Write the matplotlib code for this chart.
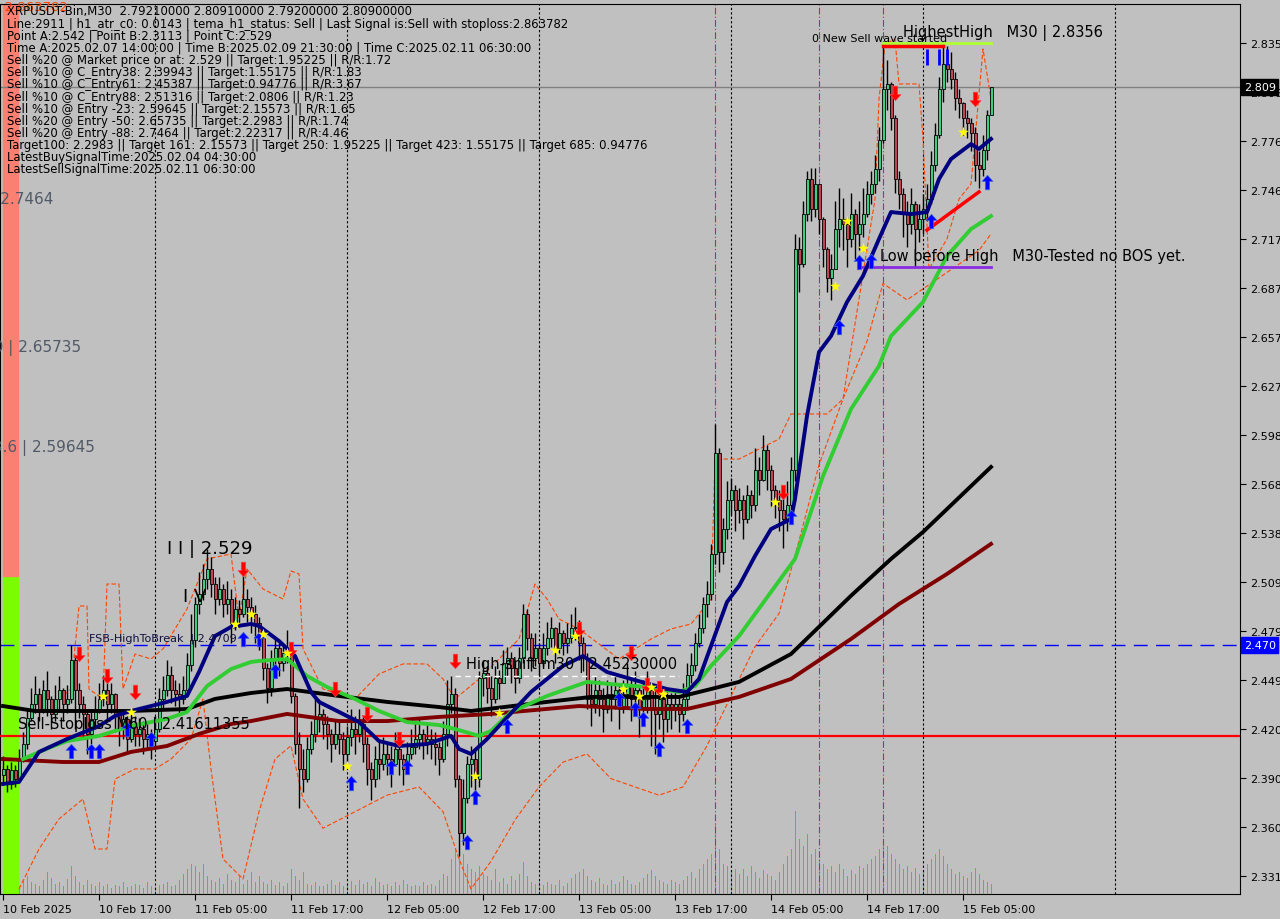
import matplotlib.pyplot as plt
import numpy as np
from matplotlib.path import Path
from matplotlib.patches import Rectangle

# XRPUSDT-Bin M30 candles, bar 0 = 10 Feb 2025 05:00
first_open = 2.392
closes = [
    2.396, 2.387, 2.395, 2.390, 2.402, 2.411, 2.427, 2.435,
    2.441, 2.432, 2.444, 2.438, 2.429, 2.438, 2.444, 2.435,
    2.438, 2.462, 2.444, 2.435, 2.429, 2.417, 2.426, 2.432,
    2.438, 2.444, 2.435, 2.441, 2.429, 2.420, 2.426, 2.414,
    2.423, 2.417, 2.420, 2.414, 2.417, 2.413, 2.420, 2.438,
    2.444, 2.453, 2.444, 2.441, 2.438, 2.444, 2.459, 2.474,
    2.496, 2.502, 2.511, 2.517, 2.508, 2.499, 2.505, 2.496,
    2.499, 2.484, 2.493, 2.490, 2.499, 2.494, 2.490, 2.484,
    2.475, 2.457, 2.445, 2.463, 2.469, 2.460, 2.466, 2.469,
    2.440, 2.411, 2.396, 2.390, 2.408, 2.417, 2.426, 2.429,
    2.423, 2.417, 2.411, 2.417, 2.414, 2.405, 2.415, 2.420,
    2.417, 2.423, 2.411, 2.396, 2.390, 2.402, 2.399, 2.405,
    2.402, 2.399, 2.408, 2.402, 2.396, 2.405, 2.409, 2.414,
    2.417, 2.411, 2.414, 2.411, 2.409, 2.402, 2.417, 2.435,
    2.441, 2.390, 2.357, 2.378, 2.399, 2.402, 2.390, 2.451,
    2.454, 2.445, 2.438, 2.451, 2.448, 2.460, 2.463, 2.457,
    2.451, 2.463, 2.490, 2.475, 2.463, 2.469, 2.460, 2.469,
    2.475, 2.481, 2.469, 2.478, 2.472, 2.475, 2.481, 2.482,
    2.472, 2.463, 2.438, 2.435, 2.444, 2.438, 2.432, 2.441,
    2.438, 2.444, 2.432, 2.441, 2.447, 2.438, 2.444, 2.432,
    2.438, 2.444, 2.432, 2.429, 2.438, 2.426, 2.435, 2.432,
    2.435, 2.429, 2.438, 2.453, 2.459, 2.472, 2.481, 2.496,
    2.502, 2.526, 2.587, 2.527, 2.541, 2.559, 2.565, 2.553,
    2.559, 2.547, 2.562, 2.556, 2.577, 2.571, 2.589, 2.577,
    2.565, 2.559, 2.553, 2.547, 2.556, 2.577, 2.711, 2.702,
    2.732, 2.753, 2.735, 2.750, 2.729, 2.711, 2.693, 2.699,
    2.723, 2.729, 2.726, 2.717, 2.732, 2.720, 2.726, 2.732,
    2.744, 2.750, 2.759, 2.777, 2.808, 2.811, 2.790, 2.753,
    2.744, 2.732, 2.726, 2.738, 2.723, 2.729, 2.735, 2.741,
    2.762, 2.780, 2.808, 2.823, 2.820, 2.814, 2.802, 2.799,
    2.790, 2.787, 2.781, 2.762, 2.759, 2.771, 2.7921, 2.809,
]
highs = [
    2.404, 2.398, 2.400, 2.398, 2.408, 2.418, 2.432, 2.445,
    2.452, 2.445, 2.450, 2.455, 2.440, 2.447, 2.452, 2.445,
    2.447, 2.471, 2.465, 2.448, 2.440, 2.432, 2.432, 2.440,
    2.448, 2.452, 2.450, 2.448, 2.442, 2.432, 2.432, 2.428,
    2.430, 2.428, 2.427, 2.425, 2.424, 2.420, 2.428, 2.445,
    2.452, 2.462, 2.458, 2.450, 2.448, 2.452, 2.466, 2.490,
    2.500, 2.515, 2.520, 2.529, 2.524, 2.512, 2.512, 2.508,
    2.510, 2.505, 2.500, 2.498, 2.520, 2.505, 2.500, 2.495,
    2.488, 2.478, 2.460, 2.468, 2.475, 2.472, 2.472, 2.480,
    2.472, 2.442, 2.418, 2.408, 2.415, 2.425, 2.440, 2.438,
    2.432, 2.428, 2.420, 2.425, 2.426, 2.418, 2.422, 2.432,
    2.428, 2.432, 2.428, 2.415, 2.400, 2.410, 2.412, 2.415,
    2.412, 2.410, 2.418, 2.412, 2.405, 2.412, 2.420, 2.424,
    2.426, 2.420, 2.424, 2.420, 2.418, 2.412, 2.425, 2.450,
    2.452, 2.445, 2.392, 2.390, 2.404, 2.410, 2.408, 2.455,
    2.462, 2.458, 2.452, 2.458, 2.456, 2.468, 2.470, 2.467,
    2.462, 2.470, 2.496, 2.493, 2.478, 2.478, 2.472, 2.478,
    2.485, 2.488, 2.482, 2.485, 2.480, 2.484, 2.490, 2.494,
    2.486, 2.476, 2.466, 2.448, 2.452, 2.450, 2.445, 2.450,
    2.448, 2.452, 2.448, 2.450, 2.460, 2.450, 2.455, 2.446,
    2.450, 2.455, 2.448, 2.445, 2.448, 2.440, 2.445, 2.442,
    2.444, 2.440, 2.448, 2.460, 2.466, 2.478, 2.490, 2.500,
    2.510, 2.532, 2.605, 2.590, 2.548, 2.570, 2.572, 2.568,
    2.566, 2.562, 2.568, 2.565, 2.590, 2.585, 2.598, 2.592,
    2.580, 2.568, 2.565, 2.562, 2.570, 2.585, 2.720, 2.718,
    2.740, 2.758, 2.760, 2.760, 2.742, 2.730, 2.712, 2.708,
    2.740, 2.748, 2.742, 2.730, 2.745, 2.735, 2.740, 2.748,
    2.752, 2.758, 2.768, 2.785, 2.836, 2.825, 2.812, 2.792,
    2.758, 2.748, 2.740, 2.748, 2.740, 2.738, 2.744, 2.750,
    2.770, 2.787, 2.815, 2.836, 2.834, 2.830, 2.818, 2.808,
    2.800, 2.795, 2.790, 2.785, 2.770, 2.780, 2.795, 2.8091,
]
lows = [
    2.386, 2.382, 2.384, 2.385, 2.388, 2.400, 2.408, 2.425,
    2.430, 2.425, 2.430, 2.428, 2.420, 2.425, 2.432, 2.425,
    2.430, 2.436, 2.420, 2.427, 2.415, 2.405, 2.411, 2.420,
    2.430, 2.434, 2.426, 2.430, 2.418, 2.410, 2.414, 2.405,
    2.412, 2.410, 2.410, 2.405, 2.408, 2.402, 2.408, 2.418,
    2.432, 2.440, 2.436, 2.434, 2.430, 2.435, 2.440, 2.455,
    2.470, 2.490, 2.498, 2.505, 2.500, 2.490, 2.495, 2.488,
    2.490, 2.472, 2.480, 2.482, 2.488, 2.485, 2.478, 2.472,
    2.468, 2.450, 2.436, 2.440, 2.458, 2.452, 2.455, 2.460,
    2.436, 2.405, 2.372, 2.382, 2.388, 2.405, 2.412, 2.418,
    2.414, 2.408, 2.400, 2.408, 2.405, 2.395, 2.400, 2.410,
    2.405, 2.412, 2.400, 2.386, 2.377, 2.385, 2.390, 2.395,
    2.392, 2.385, 2.398, 2.392, 2.386, 2.395, 2.402, 2.405,
    2.408, 2.402, 2.405, 2.402, 2.398, 2.392, 2.400, 2.410,
    2.430, 2.385, 2.343, 2.350, 2.375, 2.385, 2.380, 2.385,
    2.440, 2.436, 2.428, 2.436, 2.438, 2.448, 2.452, 2.448,
    2.442, 2.448, 2.460, 2.468, 2.455, 2.458, 2.452, 2.458,
    2.465, 2.470, 2.460, 2.466, 2.465, 2.466, 2.472, 2.474,
    2.462, 2.455, 2.432, 2.422, 2.430, 2.428, 2.418, 2.430,
    2.425, 2.432, 2.420, 2.430, 2.432, 2.425, 2.430, 2.415,
    2.428, 2.430, 2.410, 2.405, 2.420, 2.412, 2.418, 2.420,
    2.425, 2.418, 2.425, 2.432, 2.448, 2.455, 2.470, 2.478,
    2.488, 2.498, 2.520, 2.515, 2.520, 2.535, 2.550, 2.540,
    2.545, 2.535, 2.545, 2.548, 2.552, 2.562, 2.570, 2.565,
    2.555, 2.548, 2.540, 2.530, 2.540, 2.548, 2.570, 2.685,
    2.700, 2.728, 2.728, 2.730, 2.720, 2.700, 2.685, 2.680,
    2.705, 2.712, 2.710, 2.700, 2.712, 2.705, 2.710, 2.718,
    2.730, 2.738, 2.745, 2.752, 2.775, 2.795, 2.783, 2.745,
    2.735, 2.718, 2.712, 2.720, 2.700, 2.715, 2.720, 2.728,
    2.738, 2.758, 2.778, 2.800, 2.812, 2.808, 2.795, 2.790,
    2.780, 2.778, 2.770, 2.752, 2.748, 2.755, 2.765, 2.7920,
]
volume = [
    12, 14, 10, 9, 8, 14, 18, 12, 10, 8, 14, 22, 16, 10, 12, 8,
    15, 28, 18, 12, 9, 14, 10, 8, 12, 8, 10, 6, 9, 8, 12, 7,
    8, 10, 9, 6, 12, 8, 7, 9, 10, 12, 8, 9, 14, 20, 25, 30,
    28, 22, 30, 18, 14, 12, 16, 10, 20, 14, 12, 18, 10, 14, 22, 12,
    18, 12, 10, 14, 9, 12, 8, 11, 25, 18, 14, 22, 10, 9, 12, 8,
    8, 10, 14, 9, 12, 8, 10, 13, 9, 14, 10, 12, 8, 16, 12, 9,
    10, 8, 12, 9, 14, 10, 8, 9, 8, 12, 9, 10, 8, 14, 20, 18,
    35, 45, 113, 40, 30, 25, 22, 28, 20, 18, 14, 25, 12, 16, 10, 18,
    14, 20, 32, 18, 12, 10, 14, 9, 12, 10, 9, 14, 8, 11, 16, 20,
    22, 25, 18, 14, 12, 16, 10, 9, 14, 10, 12, 18, 14, 10, 9, 12,
    16, 20, 24, 18, 14, 12, 10, 14, 12, 10, 14, 18, 22, 16, 25, 30,
    35, 40, 70, 45, 30, 28, 22, 25, 20, 25, 18, 28, 22, 16, 24, 20,
    18, 14, 22, 30, 38, 45, 83, 55, 48, 60, 40, 45, 35, 30, 25, 28,
    22, 30, 25, 18, 24, 20, 28, 26, 30, 35, 38, 45, 55, 48, 40, 35,
    30, 25, 28, 22, 26, 20, 24, 30, 35, 40, 45, 38, 30, 25, 20, 22,
    18, 16, 22, 26, 20, 14, 12, 10,
]

# moving averages (bar index, price)
navy_i = [0, 4, 9, 16, 24, 28, 32, 37, 41, 46, 49, 53, 57, 62, 64, 69, 73, 77, 79, 84,
          89, 94, 99, 106, 112, 114, 117, 121, 124, 132, 140, 145, 151, 157, 166, 171,
          174, 177, 181, 184, 188, 192, 197, 198, 201, 204, 207, 211, 215, 219, 222,
          227, 231, 234, 237, 242, 244, 247]
navy_v = [2.3868, 2.3880, 2.4062, 2.4140, 2.4219, 2.4280, 2.4310, 2.4340, 2.4365, 2.4401,
          2.4546, 2.4764, 2.4819, 2.4837, 2.4825, 2.4734, 2.4643, 2.4425, 2.4365, 2.4304,
          2.4243, 2.4128, 2.4098, 2.4110, 2.4159, 2.4080, 2.4050, 2.4140, 2.4219, 2.4425,
          2.4583, 2.4643, 2.4546, 2.4504, 2.4443, 2.4425, 2.4504, 2.4704, 2.4970, 2.5067,
          2.5249, 2.5412, 2.5473, 2.5594, 2.6097, 2.6484, 2.6581, 2.6787, 2.6945, 2.7169,
          2.7332, 2.7320, 2.7332, 2.7532, 2.7653, 2.7744, 2.7714, 2.7775]
green_i = [5, 12, 16, 24, 32, 41, 46, 51, 57, 62, 64, 71, 76, 81, 88, 94, 101, 109, 113,
           119, 122, 127, 136, 146, 152, 161, 169, 173, 177, 184, 198, 205, 212, 219,
           222, 230, 236, 242, 247]
green_v = [2.4019, 2.4092, 2.4128, 2.4159, 2.4219, 2.4262, 2.4304, 2.4461, 2.4564, 2.4607,
           2.4613, 2.4625, 2.4522, 2.4455, 2.4383, 2.4310, 2.4243, 2.4225, 2.4201, 2.4159,
           2.4189, 2.4304, 2.4401, 2.4486, 2.4473, 2.4455, 2.4425, 2.4461, 2.4583, 2.4764,
           2.5231, 2.5733, 2.6139, 2.6400, 2.6581, 2.6787, 2.7066, 2.7229, 2.7308]
black_i = [0, 8, 16, 32, 46, 53, 62, 71, 84, 96, 109, 117, 136, 147, 169, 177, 184, 197,
           212, 222, 230, 247]
black_v = [2.4340, 2.4310, 2.4310, 2.4310, 2.4322, 2.4383, 2.4419, 2.4443, 2.4401, 2.4365,
           2.4334, 2.4310, 2.4365, 2.4395, 2.4395, 2.4443, 2.4486, 2.4655, 2.5008, 2.5231,
           2.5394, 2.5788]
maroon_i = [0, 15, 24, 32, 41, 49, 57, 62, 71, 84, 96, 109, 122, 144, 161, 171, 184, 197,
            212, 224, 236, 247]
maroon_v = [2.4019, 2.4001, 2.4001, 2.4062, 2.4098, 2.4171, 2.4231, 2.4249, 2.4292, 2.4249,
            2.4249, 2.4274, 2.4292, 2.4340, 2.4322, 2.4322, 2.4395, 2.4504, 2.4746, 2.4958,
            2.5140, 2.5322]

# orange dashed channel
band_up_i = [14, 17, 19, 21, 21.5, 25, 26, 29, 30, 33, 37, 40, 46, 51, 57, 59, 61, 65, 70,
             72, 74, 75, 80, 88, 94, 100, 106, 110, 113, 116, 119, 129, 133, 136, 139, 144,
             149, 154, 162, 167, 172, 177, 178, 184, 194, 197, 206, 210, 214, 218, 219,
             220.5, 223, 224, 229, 230, 231.5, 236, 239, 242, 245, 247]
band_up_v = [2.4383, 2.4443, 2.4946, 2.4946, 2.4443, 2.4383, 2.5079, 2.5079, 2.4443, 2.4655,
             2.4625, 2.4686, 2.4928, 2.5231, 2.5261, 2.4867, 2.5170, 2.5049, 2.4988, 2.5158,
             2.5140, 2.4686, 2.4443, 2.4383, 2.4534, 2.4595, 2.4595, 2.4504, 2.4383, 2.4443,
             2.4504, 2.4746, 2.5079, 2.4988, 2.4867, 2.4807, 2.4716, 2.4625, 2.4746, 2.4807,
             2.4837, 2.4988, 2.5836, 2.5836, 2.5957, 2.6109, 2.6109, 2.6200, 2.6805, 2.7411,
             2.8017, 2.8350, 2.8380, 2.8108, 2.8108, 2.7775, 2.6987, 2.7169, 2.7411, 2.7502,
             2.8320, 2.8017]
band_dn_i = [4, 9, 14, 20, 23, 26, 28, 33, 38, 42, 47, 50, 52, 55, 60, 64, 68, 72, 75, 80,
             88, 96, 104, 110, 114, 117, 122, 128, 134, 140, 146, 152, 158, 164, 170, 176,
             182, 188, 194, 198, 204, 210, 216, 220, 226, 232, 238, 244, 247]
band_dn_v = [2.3232, 2.3474, 2.3656, 2.3777, 2.3474, 2.3474, 2.3898, 2.3959, 2.3959, 2.4019,
             2.4140, 2.4383, 2.3959, 2.3414, 2.3292, 2.3700, 2.4019, 2.4100, 2.3777, 2.3600,
             2.3700, 2.3800, 2.3850, 2.3700, 2.3414, 2.3232, 2.3400, 2.3650, 2.3850, 2.4000,
             2.4050, 2.3900, 2.3850, 2.3800, 2.3850, 2.4100, 2.4400, 2.4700, 2.4900, 2.5250,
             2.5800, 2.6200, 2.6550, 2.6900, 2.6800, 2.6900, 2.7000, 2.7100, 2.7200]

# signal markers (bar index, price)
buy_i = [17, 22, 24, 31, 37, 60, 64, 68, 87, 97, 101, 116, 118, 126, 154, 158, 160, 164,
         171, 197, 209, 214, 217, 232, 246]
buy_v = [2.4068, 2.4068, 2.4068, 2.4201, 2.4140, 2.4746, 2.4746, 2.4552, 2.3874, 2.3971,
         2.3971, 2.3517, 2.3789, 2.4219, 2.4383, 2.4322, 2.4262, 2.4080, 2.4219, 2.5485,
         2.6636, 2.7030, 2.7036, 2.7278, 2.7514]
sell_i = [19, 26, 33, 60, 72, 83, 91, 99, 113, 144, 157, 161, 164, 195, 223, 243]
sell_v = [2.4655, 2.4522, 2.4425, 2.5170, 2.4686, 2.4443, 2.4292, 2.4140, 2.4613, 2.4807,
          2.4661, 2.4467, 2.4449, 2.5636, 2.8053, 2.8017]
star_i = [25, 32, 58, 62, 65, 71, 86, 118, 124, 138, 143, 155, 159, 162, 165, 193, 208,
          211, 215, 240]
star_v = [2.4401, 2.4304, 2.4837, 2.4898, 2.4777, 2.4661, 2.3977, 2.3917, 2.4298, 2.4679,
          2.4764, 2.4443, 2.4401, 2.4455, 2.4413, 2.5576, 2.6884, 2.7278, 2.7114, 2.7817]

price_ticks = [2.3311, 2.3608, 2.3905, 2.4202, 2.4498, 2.4795, 2.5092, 2.5389, 2.5686,
               2.5982, 2.6279, 2.6576, 2.6873, 2.7170, 2.7466, 2.7763, 2.8060, 2.8356]
date_pos = [0, 24, 48, 72, 96, 120, 144, 168, 192, 216, 240]
date_txt = ['10 Feb 2025', '10 Feb 17:00', '11 Feb 05:00', '11 Feb 17:00', '12 Feb 05:00',
            '12 Feb 17:00', '13 Feb 05:00', '13 Feb 17:00', '14 Feb 05:00', '14 Feb 17:00',
            '15 Feb 05:00']
midnight_bars = [38, 86, 134, 182, 230, 278]
session_bars = [178, 204, 220]

info_lines = [
    'XRPUSDT-Bin,M30  2.79210000 2.80910000 2.79200000 2.80900000',
    'Line:2911 | h1_atr_c0: 0.0143 | tema_h1_status: Sell | Last Signal is:Sell with stoploss:2.863782',
    'Point A:2.542 | Point B:2.3113 | Point C:2.529',
    'Time A:2025.02.07 14:00:00 | Time B:2025.02.09 21:30:00 | Time C:2025.02.11 06:30:00',
    'Sell %20 @ Market price or at: 2.529 || Target:1.95225 || R/R:1.72',
    'Sell %10 @ C_Entry38: 2.39943 || Target:1.55175 || R/R:1.83',
    'Sell %10 @ C_Entry61: 2.45387 || Target:0.94776 || R/R:3.67',
    'Sell %10 @ C_Entry88: 2.51316 || Target:2.0806 || R/R:1.23',
    'Sell %10 @ Entry -23: 2.59645 || Target:2.15573 || R/R:1.65',
    'Sell %20 @ Entry -50: 2.65735 || Target:2.2983 || R/R:1.74',
    'Sell %20 @ Entry -88: 2.7464 || Target:2.22317 || R/R:4.46',
    'Target100: 2.2983 || Target 161: 2.15573 || Target 250: 1.95225 || Target 423: 1.55175 || Target 685: 0.94776',
    'LatestBuySignalTime:2025.02.04 04:30:00',
    'LatestSellSignalTime:2025.02.11 06:30:00',
]

bg = '#c0c0c0'
fig = plt.figure(figsize=(12.8, 9.2), dpi=100, facecolor=bg)
ax = fig.add_axes([0, 25 / 920, 1240 / 1280, 890 / 920])
ax2 = ax.twinx()
ax.set_zorder(2)
ax2.set_zorder(1)
ax.patch.set_alpha(0)

n = len(closes)
idx = np.arange(n)
c = np.array(closes)
o = np.concatenate([[first_open], c[:-1]])
hi = np.maximum(np.array(highs), np.maximum(o, c))
lo = np.minimum(np.array(lows), np.minimum(o, c))

# volume
ax2.vlines(idx, 0, volume, color='#22dd22', lw=0.72, antialiased=False)
ax2.set_ylim(0, 890)
ax2.axis('off')

# left colour bar
ax.add_patch(Rectangle((3 / 1240, 0), 15 / 1240, 318 / 890, transform=ax.transAxes,
                       color='#7cfc00', zorder=0))
ax.add_patch(Rectangle((3 / 1240, 318 / 890), 15 / 1240, 1 - 318 / 890,
                       transform=ax.transAxes, color='#fa8072', zorder=0))

for b in midnight_bars:
    ax.axvline(b, color='black', lw=0.8, ls=(0, (2, 2)), zorder=1)
for b in session_bars:
    ax.axvline(b, color='#a0307a', lw=0.8, ls=(0, (6, 2, 1, 2)), zorder=1)

ax.axhline(2.809, color='#808080', lw=1, zorder=1)
ax.axhline(2.4709, color='#0000ff', lw=1, ls=(0, (10, 6)), zorder=1)
ax.axhline(2.41611355, color='#ff0000', lw=1.6, zorder=3)

ax.plot(band_up_i, band_up_v, color='#ff4500', lw=0.8, ls=(0, (4, 2)), zorder=2)
ax.plot(band_dn_i, band_dn_v, color='#ff4500', lw=0.8, ls=(0, (4, 2)), zorder=2)

# candles
up = c >= o
ax.vlines(idx, lo, hi, color='black', lw=1, zorder=3)
body_lo = np.minimum(o, c)
body_h = np.maximum(np.abs(c - o), 0.0006)
ax.bar(idx[up], body_h[up], bottom=body_lo[up], width=0.75, color='#3ccf80',
       edgecolor='black', lw=0.6, zorder=4)
ax.bar(idx[~up], body_h[~up], bottom=body_lo[~up], width=0.75, color='#c04452',
       edgecolor='black', lw=0.6, zorder=4)

ax.plot(maroon_i, maroon_v, color='#800000', lw=2.8, zorder=5)
ax.plot(black_i, black_v, color='black', lw=2.8, zorder=5)
ax.plot(green_i, green_v, color='#32cd32', lw=2.8, zorder=5)
ax.plot(navy_i, navy_v, color='#000080', lw=2.8, zorder=6)

ax.plot([113, 169], [2.4523, 2.4523], color='white', lw=1, ls=(0, (4, 3)), zorder=5)
ax.plot([214, 247], [2.6999, 2.6999], color='#8a2be2', lw=2, zorder=5)
ax.plot([220, 247], [2.8356, 2.8356], color='#adff2f', lw=2, zorder=5)
ax.plot([220, 235], [2.8340, 2.8340], color='#ff0000', lw=2.5, zorder=6)
ax.plot([231, 244], [2.7223, 2.7454], color='#ff0000', lw=2.5, zorder=6)
ax.vlines([231, 234, 236], 2.8225, 2.8320, color='#0000ff', lw=2, zorder=6)

arrow = Path([(0, 1), (-0.75, 0.15), (-0.3, 0.15), (-0.3, -1), (0.3, -1), (0.3, 0.15),
              (0.75, 0.15), (0, 1)])
arrow_dn = Path(arrow.vertices * [1, -1])
ax.scatter(buy_i, buy_v, marker=arrow, s=110, color='#0000ff', edgecolor='#4169e1',
           lw=0.5, zorder=7)
ax.scatter(sell_i, sell_v, marker=arrow_dn, s=110, color='#ff0000', edgecolor='#ff4040',
           lw=0.5, zorder=7)
ax.scatter(star_i, star_v, marker='*', s=70, color='#ffff00', lw=0, zorder=7)

# labels on chart
ax.text(41, 2.5297, 'I I | 2.529', fontsize=13, va='center', zorder=8)
ax.text(45, 2.5007, 'I V', fontsize=13, va='center', zorder=8)
ax.text(21.5, 2.4752, 'FSB-HighToBreak  | 2.4709', fontsize=8, color='#101040',
        va='center', zorder=8)
ax.text(3.75, 2.4231, 'Sell-Stoploss M60 | 2.41611355', fontsize=10.5, va='center', zorder=8)
ax.text(115.75, 2.4595, 'High-shift m30 | 2.45230000', fontsize=10.5, va='center', zorder=8)
ax.text(202.25, 2.8386, '0 New Sell wave started', fontsize=8, va='center', zorder=8)
ax.text(225, 2.8423, 'HighestHigh   M30 | 2.8356', fontsize=10.5, va='center', zorder=8)
ax.text(219.25, 2.7066, 'Low before High   M30-Tested no BOS yet.', fontsize=10.5,
        va='center', zorder=8)
for xr, yv, t in [(12.5, 2.7411, 'Sell -88 | 2.7464'), (19.5, 2.6515, 'Sell -50 | 2.65735'),
                  (23, 2.5909, 'Sell -23.6 | 2.59645')]:
    ax.text(xr, yv, t, fontsize=11, color='#505a66', ha='right', va='center',
            clip_on=False, zorder=8)
ax.text(16.25, 2.8577, 'Sell stoploss | 2.863782', fontsize=9.5, color='#ff4500',
        ha='right', va='center', clip_on=False, zorder=8)
for k, line in enumerate(info_lines):
    ax.text(7 / 1240, (895 - 12 - 12.15 * k) / 890, line, transform=ax.transAxes,
            fontsize=8.4, va='center', zorder=8)

ax.set_xlim(-0.75, 309.25)
ax.set_ylim(2.32015, 2.85922)
ax.yaxis.tick_right()
ax.set_yticks(price_ticks)
ax.set_yticklabels([f'{v:.4f}' for v in price_ticks])
ax.set_xticks(date_pos)
ax.set_xticklabels(date_txt, ha='left')
ax.tick_params(axis='y', direction='out', length=4, labelsize=8, pad=3)
ax.tick_params(axis='x', direction='out', length=4, labelsize=8, pad=3)
for s in ax.spines.values():
    s.set_color('black')

# price boxes on the scale
ax.text(1.003, (2.809 - 2.32015) / (2.85922 - 2.32015), '2.809', transform=ax.transAxes,
        fontsize=8, color='white', va='center', clip_on=False, zorder=9,
        bbox=dict(boxstyle='square,pad=0.25', fc='black', ec='black'))
ax.text(1.003, (2.4709 - 2.32015) / (2.85922 - 2.32015), '2.470', transform=ax.transAxes,
        fontsize=8, color='white', va='center', clip_on=False, zorder=9,
        bbox=dict(boxstyle='square,pad=0.25', fc='#0000ff', ec='#0000ff'))

fig.savefig('out.png', dpi=100, facecolor=bg)
